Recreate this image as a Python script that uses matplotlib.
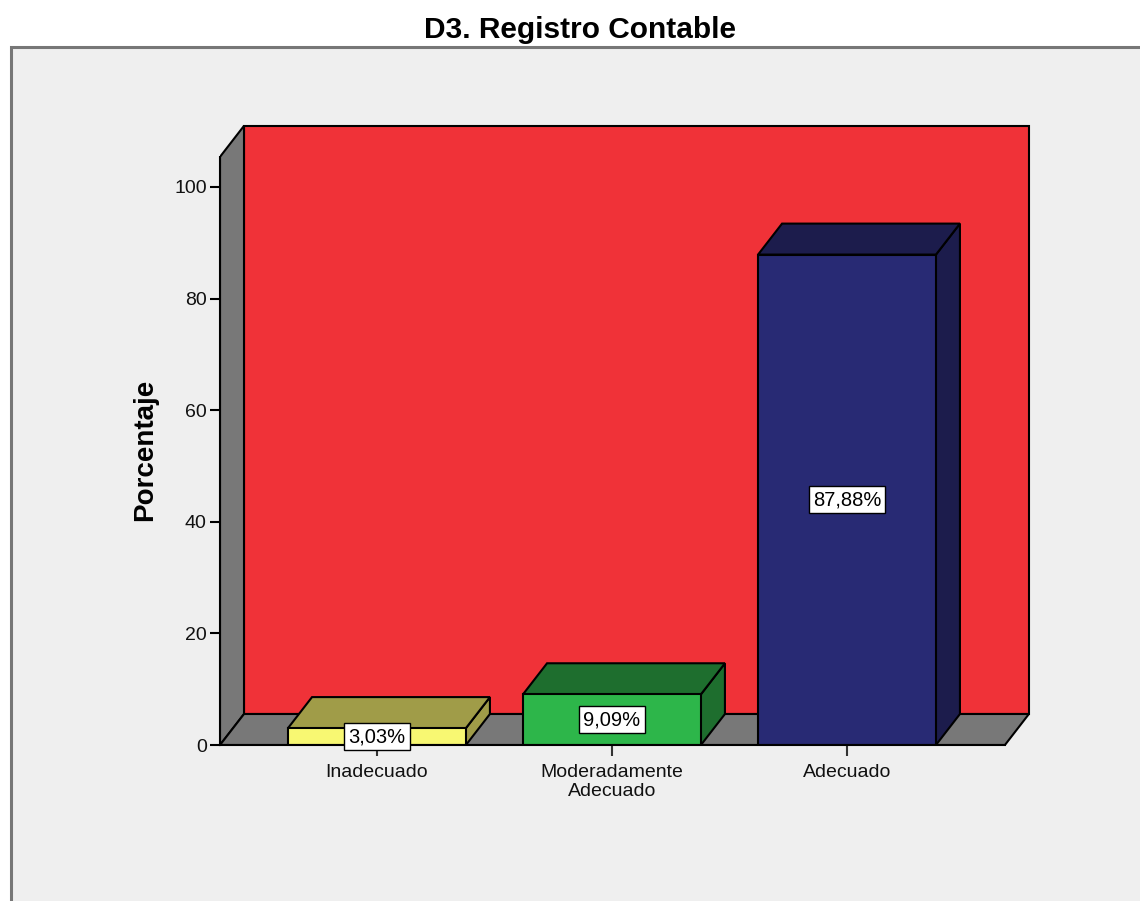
import matplotlib
matplotlib.use("Agg")
import matplotlib.pyplot as plt
from matplotlib.patches import Polygon, Rectangle

# ---- data ----
categories = ["Inadecuado", "Moderadamente\nAdecuado", "Adecuado"]
percentages = [3.03, 9.09, 87.88]
yticks = [0, 20, 40, 60, 80, 100]
title = "D3. Registro Contable"
ylabel = "Porcentaje"

# ---- style ----
front_colors = ["#f8f872", "#2db64a", "#282a74"]
dark_colors = ["#a09c48", "#1e6e2e", "#1c1c4c"]
wall_red = "#f03238"
wall_gray = "#787878"
bg = "#efefef"
plt.rcParams['font.family'] = ['Liberation Sans', 'DejaVu Sans']

W, H = 1140, 901
fig = plt.figure(figsize=(W / 100, H / 100), dpi=100, facecolor="white")

# outer frame
frame = Rectangle((11 / W, -0.01), 1.0, (H - 47) / H + 0.01, transform=fig.transFigure,
                  facecolor=bg, edgecolor="#777777", linewidth=2.2, zorder=-10)
fig.patches.append(frame)

# axes: front plane
ax_left_px, ax_right_px, ax_bottom_px, ax_top_px = 220, 1035, 745, 120
ax = fig.add_axes([ax_left_px / W, (H - ax_bottom_px) / H,
                   (ax_right_px - ax_left_px) / W, (ax_bottom_px - ax_top_px) / H])
ax.set_zorder(1)
ax.set_facecolor("none")
xL, xR_lim = -0.668, 2.800
xR = 2.672
ax.set_xlim(xL, xR_lim)
ax.set_ylim(0, 112.0)

# depth offsets in data units (24 px right, 31 px up)
px_per_x = (ax_right_px - ax_left_px) / (xR_lim - xL)
px_per_y = (ax_bottom_px - ax_top_px) / 112.0
dx = 24 / px_per_x
dy = 31 / px_per_y
wall_top = 105.4
bw = 0.757
lw = 1.5

# back wall
ax.add_patch(Polygon([(xL + dx, dy), (xR + dx, dy), (xR + dx, wall_top + dy), (xL + dx, wall_top + dy)],
                     closed=True, facecolor=wall_red, edgecolor="black", linewidth=lw, zorder=1))
# left wall
ax.add_patch(Polygon([(xL, 0), (xL + dx, dy), (xL + dx, wall_top + dy), (xL, wall_top)],
                     closed=True, facecolor=wall_gray, edgecolor="black", linewidth=lw, zorder=2))
# floor
ax.add_patch(Polygon([(xL, 0), (xR, 0), (xR + dx, dy), (xL + dx, dy)],
                     closed=True, facecolor=wall_gray, edgecolor="black", linewidth=lw, zorder=2))

# bars
for i, v in enumerate(percentages):
    x0, x1 = i - bw / 2, i + bw / 2
    ax.add_patch(Polygon([(x1, 0), (x1 + dx, dy), (x1 + dx, v + dy), (x1, v)], closed=True,
                         facecolor=dark_colors[i], edgecolor="black", linewidth=lw, zorder=3))
    ax.add_patch(Polygon([(x0, v), (x1, v), (x1 + dx, v + dy), (x0 + dx, v + dy)], closed=True,
                         facecolor=dark_colors[i], edgecolor="black", linewidth=lw, zorder=3))
    ax.add_patch(Rectangle((x0, 0), bw, v, facecolor=front_colors[i], edgecolor="black",
                           linewidth=lw, zorder=4))
    ax.text(i, v / 2, f"{v:.2f}%".replace(".", ","), ha="center", va="center", fontsize=14.5,
            zorder=6, bbox=dict(boxstyle="square,pad=0.2", facecolor="white", edgecolor="black",
                                linewidth=1.0))

# axes decoration
for s in ["top", "right"]:
    ax.spines[s].set_visible(False)
ax.spines["left"].set_bounds(0, wall_top)
ax.spines["bottom"].set_bounds(xL, xR)
ax.spines["left"].set_linewidth(lw)
ax.spines["bottom"].set_linewidth(lw)
ax.spines["left"].set_zorder(5)
ax.spines["bottom"].set_zorder(5)
ax.set_yticks(yticks)
ax.set_yticklabels([str(t) for t in yticks], fontsize=14, color="#111111")
ax.set_xticks(range(len(categories)))
ax.set_xticklabels(categories, fontsize=14, color="#111111", linespacing=1.15)
ax.tick_params(axis="y", direction="out", length=7, width=1.5, pad=2.5)
ax.tick_params(axis="x", direction="out", length=8, width=1.5, pad=5.5, colors="#333333",
               labelcolor="#111111")

ax.set_ylabel(ylabel, fontsize=20, fontweight="bold")
ax.yaxis.set_label_coords(-0.076, 0.472)

fig.text(580 / W, 1 - 30 / H, title, ha="center", va="center", fontsize=21.5, fontweight="bold")

fig.savefig("out.png", dpi=100, facecolor="white")
